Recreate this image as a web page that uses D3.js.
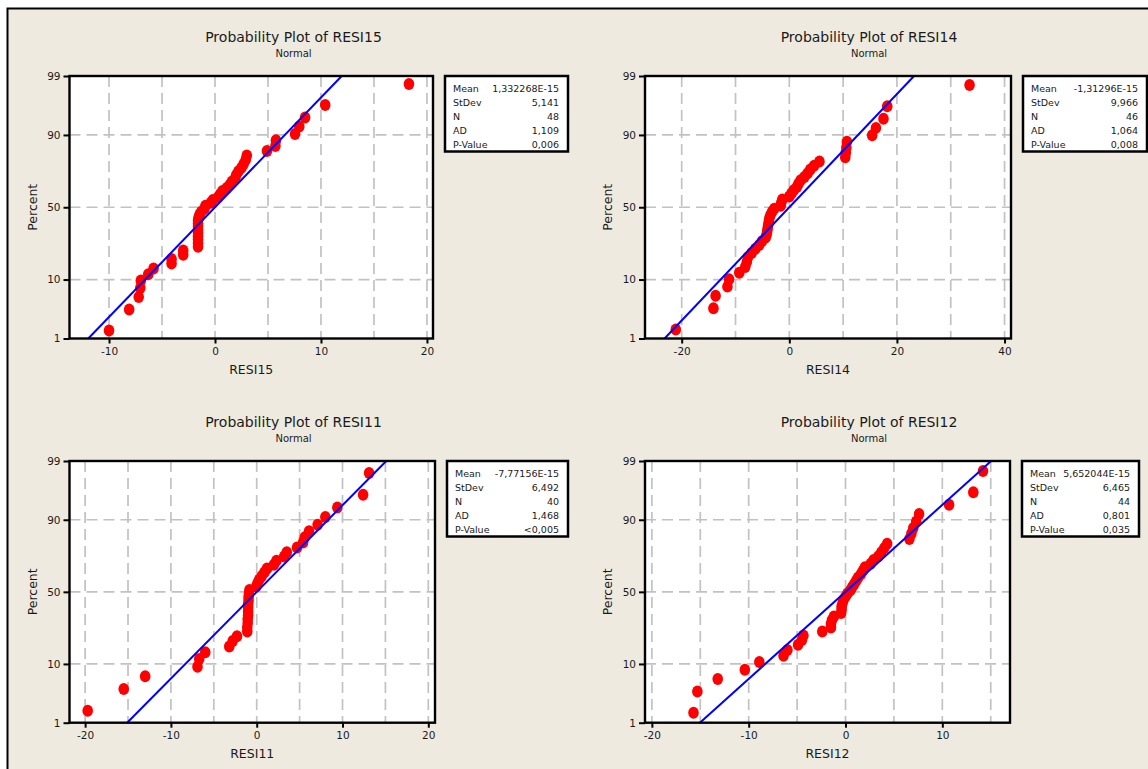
<!DOCTYPE html>
<meta charset="utf-8">
<style>
body {
  margin: 0;
  background: #fff;
}
svg text {
  font-family: "DejaVu Sans", sans-serif;
  fill: #1a1a1a;
}
.grid line {
  stroke: #c2c2c2;
  stroke-width: 1.7;
  stroke-dasharray: 11,6;
}
.frame {
  fill: none;
  stroke: #000;
  stroke-width: 2.4;
}
</style>
<body>
<svg width="1148" height="769"></svg>
<script src="https://d3js.org/d3.v7.min.js"></script>
<script>
// residuals (sorted)
var resi15 = [-10.0, -8.1, -7.2, -7.05, -7.0, -6.3, -5.8, -4.1, -4.1, -3.0, -3.0,
  -1.6, -1.6, -1.6, -1.6, -1.6, -1.6, -1.6, -1.6, -1.6, -1.55, -1.45, -1.3, -1.0, -0.9,
  -0.4, -0.2, 0.3, 0.5, 0.7, 1.1, 1.4, 1.6, 1.9, 2.0, 2.2, 2.5, 2.7, 2.9, 3.0,
  4.9, 5.7, 5.75, 7.55, 7.95, 8.5, 10.4, 18.3];
var resi14 = [-21.1, -14.1, -13.7, -11.5, -11.2, -9.3, -8.2, -7.9, -7.7, -7.0, -6.3, -5.6, -5.1,
  -4.4, -4.2, -4.1, -4.0, -3.9, -3.8, -3.7, -3.5, -3.2, -2.8, -1.6, -1.5, -1.3,
  0.0, 0.4, 0.8, 1.4, 1.7, 2.1, 2.8, 3.4, 3.9, 4.6, 5.6,
  10.4, 10.5, 10.6, 10.7, 15.4, 16.1, 17.5, 18.2, 33.5];
var resi11 = [-19.7, -15.5, -13.0, -6.9, -6.7, -6.0, -3.2, -2.8, -2.3,
  -1.1, -1.1, -1.05, -1.05, -1.0, -1.0, -1.0, -1.0, -0.95, -0.95, -0.9, -0.85,
  -0.05, 0.1, 0.3, 0.6, 0.9, 1.2, 2.0, 2.3, 3.2, 3.5, 4.7, 5.4, 5.6, 6.1, 7.1, 8.0, 9.4, 12.4, 13.1];
var resi12 = [-15.7, -15.3, -13.2, -10.4, -8.9, -6.4, -6.0, -4.9, -4.5, -4.35, -2.4,
  -1.5, -1.5, -1.4, -1.2, -0.45, -0.4, -0.4, -0.3, -0.2, 0.0,
  0.2, 0.5, 0.7, 0.9, 1.1, 1.3, 1.6, 1.8, 2.0, 2.6, 2.9, 3.4, 3.7, 4.0, 4.3,
  6.6, 6.8, 7.0, 7.3, 7.6, 10.7, 13.2, 14.2];

var names = ["RESI15", "RESI14", "RESI11", "RESI12"];
var means = [1.332268e-15, -1.31296e-15, -7.77156e-15, 5.652044e-15];
var stdevs = [5.141, 9.966, 6.492, 6.465];

var statLabels = ["Mean", "StDev", "N", "AD", "P-Value"];
var stats15 = ["1,332268E-15", "5,141", "48", "1,109", "0,006"];
var stats14 = ["-1,31296E-15", "9,966", "46", "1,064", "0,008"];
var stats11 = ["-7,77156E-15", "6,492", "40", "1,468", "<0,005"];
var stats12 = ["5,652044E-15", "6,465", "44", "0,801", "0,035"];

var pctTicks = [1, 10, 50, 90, 99];
var pctGrid = [10, 50, 90];
var xTicks15 = [-10, 0, 10, 20], xGrid15 = [-10, -5, 0, 5, 10, 15, 20];
var xTicks14 = [-20, 0, 20, 40], xGrid14 = [-20, -10, 0, 10, 20, 30, 40];
var xTicks11 = [-20, -10, 0, 10, 20], xGrid11 = [-20, -15, -10, -5, 0, 5, 10, 15, 20];
var xTicks12 = [-20, -10, 0, 10], xGrid12 = [-20, -15, -10, -5, 0, 5, 10, 15];

// inverse normal cdf (Acklam)
function probit(p) {
  var a = [-3.969683028665376e+01, 2.209460984245205e+02, -2.759285104469687e+02, 1.383577518672690e+02, -3.066479806614716e+01, 2.506628277459239e+00];
  var b = [-5.447609879822406e+01, 1.615858368580409e+02, -1.556989798598866e+02, 6.680131188771972e+01, -1.328068155288572e+01];
  var c = [-7.784894002430293e-03, -3.223964580411365e-01, -2.400758277161838e+00, -2.549671010229528e+00, 4.374664141464968e+00, 2.938163982698783e+00];
  var d = [7.784695709041462e-03, 3.224671290700398e-01, 2.445134137142996e+00, 3.754408661907416e+00];
  var q, r;
  if (p < 0.02425) {
    q = Math.sqrt(-2 * Math.log(p));
    return (((((c[0]*q+c[1])*q+c[2])*q+c[3])*q+c[4])*q+c[5]) / ((((d[0]*q+d[1])*q+d[2])*q+d[3])*q+1);
  }
  if (p > 1 - 0.02425) {
    q = Math.sqrt(-2 * Math.log(1 - p));
    return -(((((c[0]*q+c[1])*q+c[2])*q+c[3])*q+c[4])*q+c[5]) / ((((d[0]*q+d[1])*q+d[2])*q+d[3])*q+1);
  }
  q = p - 0.5; r = q * q;
  return (((((a[0]*r+a[1])*r+a[2])*r+a[3])*r+a[4])*r+a[5])*q / (((((b[0]*r+b[1])*r+b[2])*r+b[3])*r+b[4])*r+1);
}

var layout = [
  {left: 69.5, top: 76, right: 433, bottom: 338.5, cx: 293.5, xDom: [-13.73, 20.57], boxW: 123, data: resi15, stats: stats15, ticks: xTicks15, grid: xGrid15},
  {left: 645, top: 76, right: 1011, bottom: 338.5, cx: 869, xDom: [-26.82, 41.2], boxW: 124, data: resi14, stats: stats14, ticks: xTicks14, grid: xGrid14},
  {left: 69.5, top: 461, right: 435, bottom: 722.7, cx: 293.5, xDom: [-21.82, 20.78], boxW: 121, data: resi11, stats: stats11, ticks: xTicks11, grid: xGrid11},
  {left: 645, top: 461, right: 1010, bottom: 722.7, cx: 869, xDom: [-20.71, 16.99], boxW: 117, data: resi12, stats: stats12, ticks: xTicks12, grid: xGrid12}
];

var svg = d3.select("svg");

// beige graph window
svg.append("rect")
    .attr("x", 7.5).attr("y", 8.5)
    .attr("width", 1160).attr("height", 780)
    .attr("fill", "#eeeae0")
    .attr("stroke", "#000")
    .attr("stroke-width", 2);

layout.forEach(function(L, k) {
  var g = svg.append("g");
  var x = d3.scaleLinear().domain(L.xDom).range([L.left, L.right]);
  var y = d3.scaleLinear().domain([probit(0.01), probit(0.99)]).range([L.bottom, L.top]);
  var yp = function(p) { return y(probit(p / 100)); };

  // titles
  g.append("text")
      .attr("x", L.cx).attr("y", L.top - 34)
      .attr("text-anchor", "middle")
      .style("font-size", "14px")
      .text("Probability Plot of " + names[k]);
  g.append("text")
      .attr("x", L.cx).attr("y", L.top - 19)
      .attr("text-anchor", "middle")
      .style("font-size", "10px")
      .text("Normal");

  // plot area
  g.append("rect")
      .attr("x", L.left).attr("y", L.top)
      .attr("width", L.right - L.left).attr("height", L.bottom - L.top)
      .attr("fill", "#fff");

  var grid = g.append("g").attr("class", "grid");
  grid.selectAll(".vx")
    .data(L.grid)
    .enter().append("line")
      .attr("x1", function(d) { return x(d); })
      .attr("x2", function(d) { return x(d); })
      .attr("y1", L.top).attr("y2", L.bottom);
  grid.selectAll(".hy")
    .data(pctGrid)
    .enter().append("line")
      .attr("x1", L.left).attr("x2", L.right)
      .attr("y1", function(d) { return yp(d); })
      .attr("y2", function(d) { return yp(d); });

  // points: median ranks of the sorted residuals
  var n = L.data.length;
  var pts = L.data.slice().sort(d3.ascending).map(function(v, i) {
    return {v: v, p: (i + 1 - 0.3) / (n + 0.4) * 100};
  });
  g.selectAll(".pt")
    .data(pts)
    .enter().append("ellipse")
      .attr("cx", function(d) { return x(d.v); })
      .attr("cy", function(d) { return yp(d.p); })
      .attr("rx", 5.3)
      .attr("ry", 6)
      .attr("fill", "#ff0000");

  // fitted normal line, 1% to 99%
  var fit = [1, 99].map(function(p) {
    return {v: means[k] + probit(p / 100) * stdevs[k], p: p};
  });
  g.append("path")
      .datum(fit)
      .attr("fill", "none")
      .attr("stroke", "#0000ff")
      .attr("stroke-width", 2)
      .attr("d", d3.line()
        .x(function(d) { return x(d.v); })
        .y(function(d) { return yp(d.p); }));

  // axes
  var xa = g.append("g")
      .attr("transform", "translate(0," + L.bottom + ")")
      .call(d3.axisBottom(x).tickValues(L.ticks).tickSize(5).tickPadding(4).tickFormat(d3.format("d")));
  var ya = g.append("g")
      .attr("transform", "translate(" + L.left + ",0)")
      .call(d3.axisLeft(y)
        .tickValues(pctTicks.map(function(p) { return probit(p / 100); }))
        .tickFormat(function(d, i) { return pctTicks[i]; })
        .tickSize(6).tickPadding(3));
  [xa, ya].forEach(function(a) {
    a.attr("font-family", null).attr("font-size", null);
    a.select(".domain").remove();
    a.selectAll(".tick line").attr("stroke", "#000").attr("stroke-width", 2);
    a.selectAll(".tick text").style("font-size", "10.5px").attr("fill", "#1a1a1a");
  });
  xa.selectAll(".tick text").text(function(d) { return d3.format("d")(d).replace("\u2212", "-"); });

  g.append("rect")
      .attr("class", "frame")
      .attr("x", L.left).attr("y", L.top)
      .attr("width", L.right - L.left).attr("height", L.bottom - L.top);

  // axis titles
  g.append("text")
      .attr("x", (L.left + L.right) / 2).attr("y", L.bottom + 35)
      .attr("text-anchor", "middle")
      .style("font-size", "12.5px")
      .text(names[k]);
  g.append("text")
      .attr("transform", "translate(" + (L.left - 33) + "," + ((L.top + L.bottom) / 2) + ") rotate(-90)")
      .attr("text-anchor", "middle")
      .style("font-size", "12.5px")
      .text("Percent");

  // stats box
  var bx = L.right + 12;
  g.append("rect")
      .attr("x", bx).attr("y", L.top)
      .attr("width", L.boxW).attr("height", 75.5)
      .attr("fill", "#fff")
      .attr("stroke", "#000")
      .attr("stroke-width", 2.5);
  g.selectAll(".sl")
    .data(statLabels)
    .enter().append("text")
      .attr("x", bx + 8)
      .attr("y", function(d, i) { return L.top + 16 + i * 14; })
      .style("font-size", "9.5px")
      .text(function(d) { return d; });
  g.selectAll(".sv")
    .data(L.stats)
    .enter().append("text")
      .attr("x", bx + L.boxW - 9)
      .attr("y", function(d, i) { return L.top + 16 + i * 14; })
      .attr("text-anchor", "end")
      .style("font-size", "9.5px")
      .text(function(d) { return d; });
});
</script>
</body>
